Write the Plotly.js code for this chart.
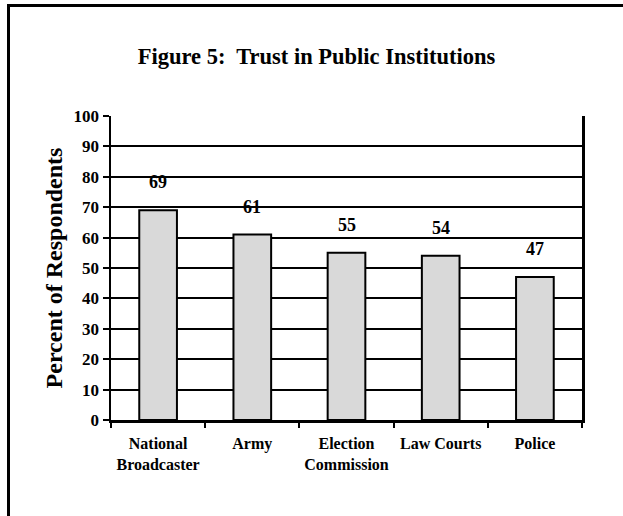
<!DOCTYPE html>
<html>
<head>
<meta charset="utf-8">
<script src="https://cdn.plot.ly/plotly-3.0.1.min.js"></script>
<style>
  html, body { margin: 0; padding: 0; background: #ffffff; }
  #wrap { position: relative; width: 623px; height: 516px; overflow: hidden; }
  #chart { position: absolute; left: 0; top: 0; width: 623px; height: 516px; }
  /* open frame around the figure (left and top edges) */
  #frame { position: absolute; left: 7px; top: 4px; right: -10px; bottom: -10px;
           border-left: 3px solid #000; border-top: 3px solid #000; pointer-events: none; }
</style>
</head>
<body>
<div id="wrap">
  <div id="chart"></div>
  <div id="frame"></div>
</div>
<script>
// Share of respondents who trust each institution (%)
const institutions = ['National Broadcaster', 'Army', 'Election Commission', 'Law Courts', 'Police'];
const tickLabels = ['National<br>Broadcaster', 'Army', 'Election<br>Commission', 'Law Courts', 'Police'];
const trustPercent = [69, 61, 55, 54, 47];

const serif = '"Liberation Serif", "Times New Roman", Times, serif';

const bars = {
  type: 'bar',
  x: institutions,
  y: trustPercent,
  width: 0.4,
  marker: { color: '#d9d9d9', line: { color: '#000000', width: 2 } },
  hoverinfo: 'x+y'
};

// value labels above each bar
const valueLabels = institutions.map((name, i) => ({
  x: name,
  y: trustPercent[i],
  xref: 'x',
  yref: 'y',
  text: String(trustPercent[i]),
  showarrow: false,
  yanchor: 'middle',
  yshift: 28,
  font: { family: serif, size: 18, color: '#000000', weight: 'bold' }
}));

const layout = {
  width: 623,
  height: 516,
  margin: { l: 111, r: 41, t: 116, b: 96 },
  paper_bgcolor: '#ffffff',
  plot_bgcolor: '#ffffff',
  showlegend: false,
  bargap: 0.6,
  title: {
    text: 'Figure 5:\u00a0 Trust in Public Institutions',
    font: { family: serif, size: 22.5, color: '#000000', weight: 'bold' },
    xref: 'container', x: 0.508, xanchor: 'center',
    yref: 'container', y: 0.892, yanchor: 'middle'
  },
  xaxis: {
    type: 'category',
    tickmode: 'array',
    tickvals: institutions,
    ticktext: tickLabels,
    tickangle: 0,
    tickson: 'boundaries',
    ticks: 'outside',
    ticklen: 5,
    tickwidth: 2,
    tickcolor: '#000000',
    ticklabelstandoff: 7,
    showline: true,
    linecolor: '#000000',
    linewidth: 2.5,
    showgrid: false,
    zeroline: false,
    tickfont: { family: serif, size: 16, color: '#000000', weight: 'bold' },
    fixedrange: true
  },
  yaxis: {
    range: [0, 100],
    tickmode: 'linear',
    tick0: 0,
    dtick: 10,
    ticks: 'outside',
    ticklen: 6,
    tickwidth: 2,
    tickcolor: '#000000',
    showline: true,
    mirror: true,
    linecolor: '#000000',
    linewidth: 2.5,
    showgrid: true,
    gridcolor: '#000000',
    gridwidth: 2,
    zeroline: false,
    tickfont: { family: serif, size: 17, color: '#000000', weight: 'bold' },
    title: {
      text: 'Percent of Respondents',
      font: { family: serif, size: 24, color: '#000000', weight: 'bold' },
      standoff: 4
    },
    fixedrange: true
  },
  annotations: valueLabels
};

Plotly.newPlot('chart', [bars], layout, { displayModeBar: false, staticPlot: true });
</script>
</body>
</html>
